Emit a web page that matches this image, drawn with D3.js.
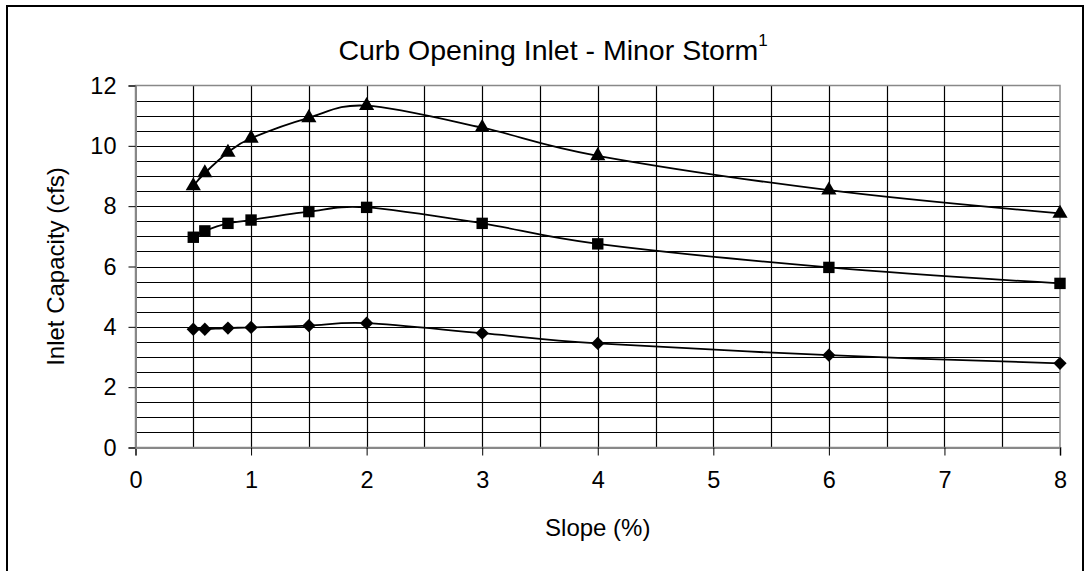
<!DOCTYPE html>
<html>
<head>
<meta charset="utf-8">
<script src="https://cdn.jsdelivr.net/npm/d3@7"></script>
<style>
  body { margin: 0; background: #fff; }
  svg { display: block; font-family: "Liberation Sans", Arial, sans-serif; }
</style>
</head>
<body>
<div id="chart"></div>
<script>
// slope (%) values shared by all three series
const slopes = [0.5, 0.6, 0.8, 1, 1.5, 2, 3, 4, 6, 8];

// inlet capacity (cfs) per series
const upperSeries  = [8.67, 9.1, 9.78, 10.25, 10.93, 11.33, 10.6, 9.67, 8.53, 7.76];
const middleSeries = [6.97, 7.18, 7.43, 7.54, 7.82, 7.96, 7.43, 6.75, 5.97, 5.44];
const lowerSeries  = [3.92, 3.92, 3.96, 3.98, 4.04, 4.12, 3.79, 3.45, 3.06, 2.79];

const seriesMarkers = ["triangle", "square", "diamond"];

const xTicks = [0, 1, 2, 3, 4, 5, 6, 7, 8];
const yTicks = [0, 2, 4, 6, 8, 10, 12];

const W = 1089, H = 571;
const plot = {left: 135.5, right: 1060, top: 85.5, bottom: 447.5};

const svg = d3.select("#chart").append("svg")
    .attr("width", W)
    .attr("height", H);

svg.append("rect")
    .attr("width", W).attr("height", H)
    .attr("fill", "#fff");

// outer chart frame
svg.append("rect")
    .attr("x", 7).attr("y", 6)
    .attr("width", 1076).attr("height", 572)
    .attr("fill", "none")
    .attr("stroke", "#000")
    .attr("stroke-width", 2);

const x = d3.scaleLinear().domain([0, 8]).range([plot.left, plot.right]);
const y = d3.scaleLinear().domain([0, 12]).range([plot.bottom, plot.top]);

// gridlines every 0.5
const grid = svg.append("g");
grid.selectAll("line.h")
    .data(d3.range(0.5, 12, 0.5))
    .join("line")
    .attr("x1", plot.left).attr("x2", plot.right)
    .attr("y1", d => Math.round(y(d)) + 0.5)
    .attr("y2", d => Math.round(y(d)) + 0.5)
    .attr("stroke", "#000")
    .attr("stroke-width", 1.2);

grid.selectAll("line.v")
    .data(d3.range(0.5, 8, 0.5))
    .join("line")
    .attr("y1", plot.top).attr("y2", plot.bottom)
    .attr("x1", d => Math.round(x(d)) + 0.5)
    .attr("x2", d => Math.round(x(d)) + 0.5)
    .attr("stroke", "#000")
    .attr("stroke-width", 1.2);

// plot area border (grey)
svg.append("rect")
    .attr("x", plot.left).attr("y", plot.top)
    .attr("width", plot.right - plot.left)
    .attr("height", plot.bottom - plot.top)
    .attr("fill", "none")
    .attr("stroke", "#888")
    .attr("stroke-width", 1.5);

// axes
const xAxis = svg.append("g")
    .attr("transform", `translate(0,${plot.bottom})`)
    .call(d3.axisBottom(x).tickValues(xTicks).tickSize(8).tickPadding(16).tickFormat(d3.format("d")));

const yAxis = svg.append("g")
    .attr("transform", `translate(${plot.left},0)`)
    .call(d3.axisLeft(y).tickValues(yTicks).tickSize(7).tickPadding(12).tickFormat(d3.format("d")));

[xAxis, yAxis].forEach(a => {
    a.select(".domain").attr("stroke", "#888").attr("stroke-width", 2);
    a.selectAll(".tick line").attr("stroke", "#000");
    a.selectAll(".tick text")
        .attr("fill", "#000")
        .style("font-family", "'Liberation Sans', Arial, sans-serif")
        .style("font-size", "23.5px");
});

// series lines + markers
const allSeries = [upperSeries, middleSeries, lowerSeries];
const line = d3.line()
    .x((d, i) => x(slopes[i]))
    .y(d => y(d))
    .curve(d3.curveCardinal.tension(0));

const symbolFor = {
    triangle: d3.symbol().type(d3.symbolTriangle).size(100),
    square: d3.symbol().type(d3.symbolSquare).size(130),
    diamond: d3.symbol().type(d3.symbolSquare).size(88)
};

allSeries.forEach((vals, si) => {
    svg.append("path")
        .datum(vals)
        .attr("d", line)
        .attr("fill", "none")
        .attr("stroke", "#000")
        .attr("stroke-width", 1.8);

    const kind = seriesMarkers[si];
    svg.append("g").selectAll("path")
        .data(vals)
        .join("path")
        .attr("d", symbolFor[kind]())
        .attr("transform", (d, i) => `translate(${x(slopes[i])},${y(d)})` + (kind === "diamond" ? " rotate(45)" : ""))
        .attr("fill", "#000");
});

// title
const title = svg.append("text")
    .attr("x", 553)
    .attr("y", 60)
    .attr("text-anchor", "middle")
    .style("font-size", "28.5px")
    .attr("fill", "#000");
title.append("tspan").text("Curb Opening Inlet - Minor Storm");
title.append("tspan")
    .attr("dy", -14)
    .style("font-size", "17px")
    .text("1");

// axis titles
svg.append("text")
    .attr("x", (plot.left + plot.right) / 2)
    .attr("y", 536)
    .attr("text-anchor", "middle")
    .style("font-size", "24px")
    .text("Slope (%)");

svg.append("text")
    .attr("transform", `translate(64,${(plot.top + plot.bottom) / 2}) rotate(-90)`)
    .attr("text-anchor", "middle")
    .style("font-size", "24px")
    .text("Inlet Capacity (cfs)");
</script>
</body>
</html>
